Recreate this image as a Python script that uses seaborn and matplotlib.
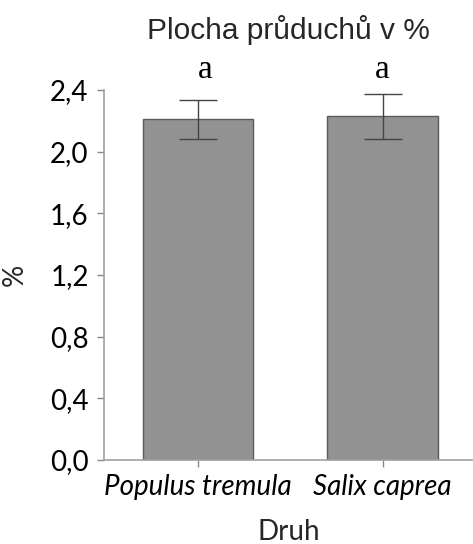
import matplotlib
matplotlib.use("Agg")
import matplotlib.pyplot as plt
import seaborn as sns
import pandas as pd

# Stomatal area per species (mean and error)
species = ["Populus tremula", "Salix caprea"]
means = [2.21, 2.23]
errors = [0.125, 0.145]
letters = ["a", "a"]
yticks = [0.0, 0.4, 0.8, 1.2, 1.6, 2.0, 2.4]
ytick_labels = ["0,0", "0,4", "0,8", "1,2", "1,6", "2,0", "2,4"]

sns.set_theme(style="white")
plt.rcParams["font.family"] = ["Lato", "DejaVu Sans"]

df = pd.DataFrame({"Druh": species, "Plocha": means})

fig = plt.figure(figsize=(4.73, 5.44), dpi=100)
ax = fig.add_axes([0.2199, 0.1544, 0.7801, 0.6801])

sns.barplot(data=df, x="Druh", y="Plocha", ax=ax, color="#929292",
            edgecolor="#5a5a5a", linewidth=1.0, width=0.6, errorbar=None,
            saturation=1)
ax.errorbar(range(len(species)), means, yerr=errors, fmt="none",
            ecolor="#444444", elinewidth=1.0, capsize=14, capthick=1.0)

for i, t in enumerate(letters):
    ax.text(i + (0.04 if i == 0 else 0.0), 2.48, t, ha="center", va="baseline",
            fontsize=24, family="Liberation Serif", color="black")

ax.set_xlim(-0.51, 1.49)
ax.set_ylim(0, 2.4)
ax.set_yticks(yticks)
ax.set_yticklabels(ytick_labels)
for lab in ax.get_xticklabels():
    lab.set_fontstyle("italic")
ax.tick_params(axis="both", labelsize=20, colors="#888888", labelcolor="black",
               length=5, width=1, direction="out", left=True, bottom=True)
ax.tick_params(axis="x", pad=5)
ax.tick_params(axis="y", pad=6)

for side in ["top", "right"]:
    ax.spines[side].set_visible(False)
for side in ["left", "bottom"]:
    ax.spines[side].set_color("#a0a0a0")
    ax.spines[side].set_linewidth(1.2)

ax.set_xlabel("Druh", fontsize=20, labelpad=14)
ax.set_ylabel("%", fontsize=20, labelpad=16)
ax.set_title("Plocha průduchů v %", fontsize=21.5, family="Liberation Sans",
             pad=37)

fig.savefig("out.png", dpi=100, facecolor="white")
